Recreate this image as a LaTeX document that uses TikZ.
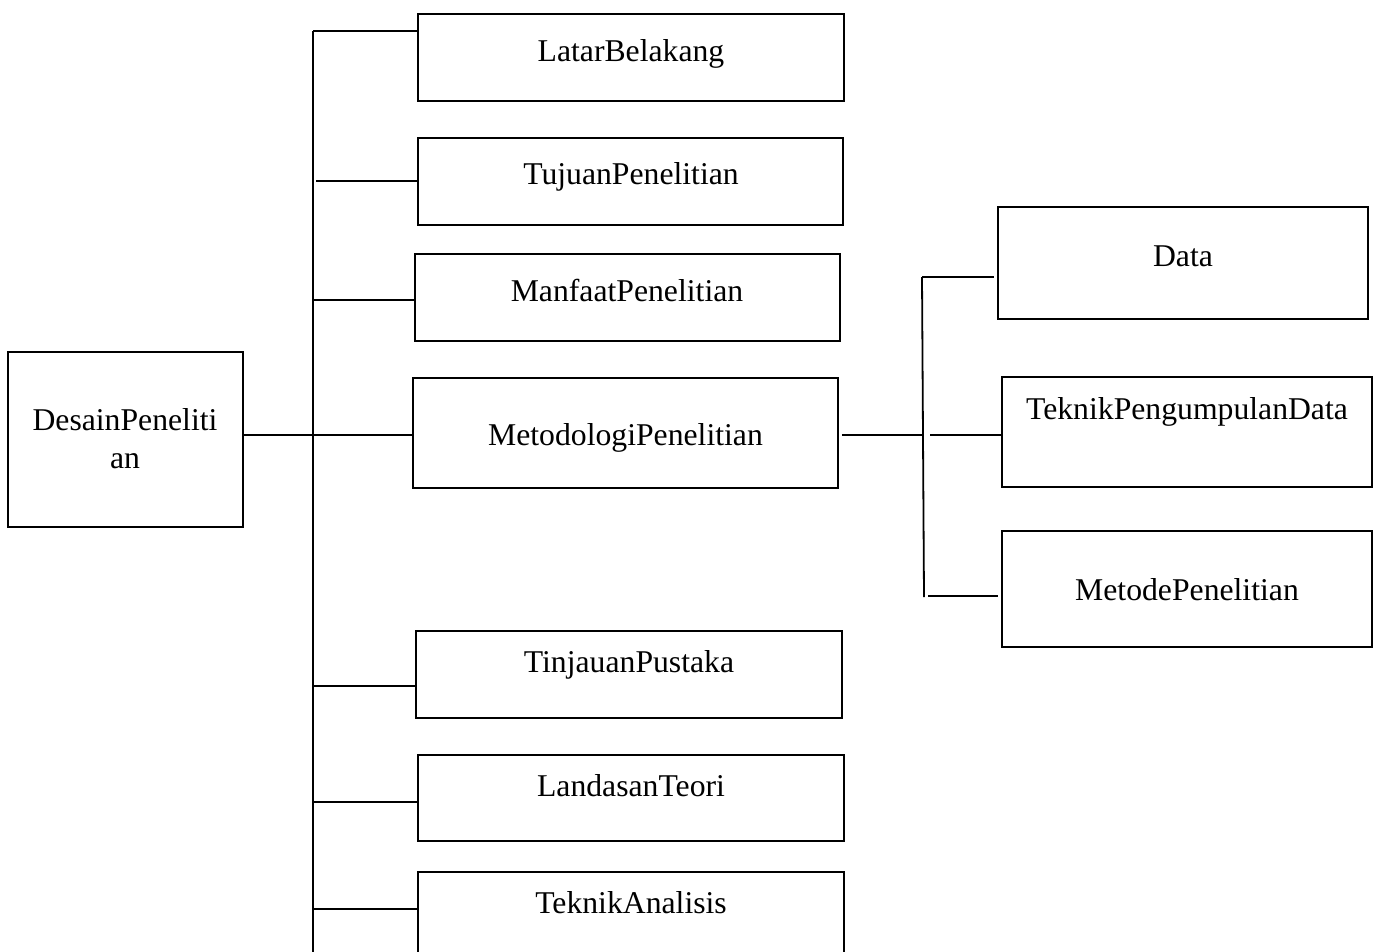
\documentclass[tikz,border=0pt]{standalone}
\usepackage{fontspec}
\setmainfont{Liberation Serif}
\usetikzlibrary{calc}
\begin{document}
\begin{tikzpicture}[x=1pt,y=-1pt,
  box/.style={draw=black,line width=1.8pt,inner sep=0pt,minimum width=#1},
  txt/.style={anchor=base,inner sep=0pt,font=\fontsize{31.7}{38}\selectfont},
  conn/.style={draw=black,line width=1.8pt}]
\useasboundingbox (0,0) rectangle (1381,952);
\begin{scope}
\clip (0,0) rectangle (1381,952);
% boxes
\node[box=235pt,minimum height=175pt] (desain) at (125.5,439.5) {};
\node[box=426pt,minimum height=87pt] (lb) at (631,57.5) {};
\node[box=425pt,minimum height=87pt] (tp) at (630.5,181.5) {};
\node[box=425pt,minimum height=87pt] (mp) at (627.5,297.5) {};
\node[box=425pt,minimum height=110pt] (met) at (625.5,433) {};
\node[box=426pt,minimum height=87pt] (tin) at (629,674.5) {};
\node[box=426pt,minimum height=86pt] (lan) at (631,798) {};
\node[box=426pt,minimum height=87pt] (tek) at (631,915.5) {};
\node[box=370pt,minimum height=112pt] (data) at (1183,263) {};
\node[box=370pt,minimum height=110pt] (tpd) at (1187,432) {};
\node[box=370pt,minimum height=116pt] (metp) at (1187,589) {};
% texts
\node[txt] (tdesain1) at (125,430) {DesainPeneliti};
\node[txt] (tdesain2) at (125,468) {an};
\node[txt] (tlb) at (631,62) {LatarBelakang};
\node[txt] (ttp) at (631,185) {TujuanPenelitian};
\node[txt] (tmp) at (627,301) {ManfaatPenelitian};
\node[txt] (tmet) at (625.5,445) {MetodologiPenelitian};
\node[txt] (ttin) at (629,672) {TinjauanPustaka};
\node[txt] (tlan) at (631,796) {LandasanTeori};
\node[txt] (ttek) at (631,913) {TeknikAnalisis};
\node[txt] (tdata) at (1183,266) {Data};
\node[txt] (ttpd) at (1187,419) {TeknikPengumpulanData};
\node[txt] (tmetp) at (1187,600) {MetodePenelitian};
% trunk
\coordinate (top) at (313,31);
\coordinate (bot) at (313,960);
\draw[conn] (top) -- (bot);
\coordinate (j1) at (313,31);
\coordinate (j2) at (316,181);
\coordinate (j3) at (312,300);
\coordinate (j4) at (313,435);
\coordinate (j5) at (313,686);
\coordinate (j6) at (313,802);
\coordinate (j7) at (313,909);
\draw[conn] (j1) -- (j1 -| lb.west);
\draw[conn] (j2) -- (j2 -| tp.west);
\draw[conn] (j3) -- (j3 -| mp.west);
\draw[conn] (desain.east |- j4) -- (j4 -| met.west);
\draw[conn] (j5) -- (j5 -| tin.west);
\draw[conn] (j6) -- (j6 -| lan.west);
\draw[conn] (j7) -- (j7 -| tek.west);
% right branch
\coordinate (rtop) at (922,277);
\coordinate (rbot) at (924,597);
\coordinate (rmid) at (922,435);
\draw[conn] (rtop) -- (rbot);
\coordinate (mete) at ($(met.east)+(3,0)$);
\draw[conn] (mete |- rmid) -- (rmid);
\coordinate (dataw) at ($(data.west)+(-3,0)$);
\draw[conn] (rtop) -- (rtop -| dataw);
\coordinate (rm2) at (930,435);
\draw[conn] (rm2) -- (rm2 -| tpd.west);
\coordinate (rb2) at (928,596);
\coordinate (metpw) at ($(metp.west)+(-3,0)$);
\draw[conn] (rb2) -- (rb2 -| metpw);
\end{scope}
\end{tikzpicture}
\end{document}
